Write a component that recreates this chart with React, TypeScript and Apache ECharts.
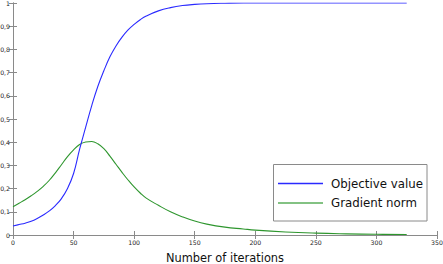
import React, { useEffect, useRef } from "react";
import * as echarts from "echarts";

const iterations = [0, 5, 10, 15, 20, 25, 30, 35, 40, 45, 50, 55, 60, 65, 70, 75, 80, 85, 90, 95, 100, 105, 110, 120, 130, 140, 150, 160, 175, 190, 200, 225, 250, 275, 300, 325];
const objectiveValue = [0.039, 0.045, 0.051, 0.059, 0.071, 0.086, 0.104, 0.127, 0.157, 0.2, 0.265, 0.37, 0.465, 0.558, 0.64, 0.708, 0.768, 0.815, 0.853, 0.884, 0.908, 0.928, 0.944, 0.966, 0.98, 0.989, 0.994, 0.997, 0.999, 1, 1, 1, 1, 1, 1, 1];
const gradientNorm = [0.122, 0.137, 0.152, 0.169, 0.188, 0.21, 0.236, 0.268, 0.303, 0.338, 0.367, 0.39, 0.401, 0.403, 0.393, 0.372, 0.34, 0.305, 0.27, 0.237, 0.207, 0.181, 0.159, 0.128, 0.1, 0.078, 0.06, 0.047, 0.034, 0.026, 0.021, 0.013, 0.008, 0.005, 0.003, 0.002];
const seriesNames = ["Objective value", "Gradient norm"];
const xAxisName = "Number of iterations";

const FONT = "DejaVu Sans";
const AXIS_COLOR = "#8a8a8a";

export default function App() {
  const ref = useRef<HTMLDivElement>(null);
  useEffect(() => {
    if (!ref.current) return;
    const chart = echarts.init(ref.current, null, { renderer: "svg" });
    const fmtY = (v: number) => String(Math.round(v * 10) / 10).replace(".", ",");
    const tickStyle = { show: true, inside: true, length: 4, lineStyle: { color: AXIS_COLOR, width: 1 } };
    const lineStyleAxis = { show: true, lineStyle: { color: AXIS_COLOR, width: 1 } };
    chart.setOption({
      animation: false,
      backgroundColor: "#ffffff",
      grid: { left: 13, right: 6, top: 3, bottom: 29, containLabel: false, outerBoundsMode: "none" },
      graphic: [
        {
          type: "rect",
          z: 5,
          shape: { x: 273.5, y: 164.5, width: 153.5, height: 56.5 },
          style: { fill: "#ffffff", stroke: "#8a8a8a", lineWidth: 1 },
        },
      ],
      xAxis: [
        {
          type: "value",
          min: 0,
          max: 350,
          interval: 50,
          position: "bottom",
          axisLine: lineStyleAxis,
          axisTick: tickStyle,
          splitLine: { show: false },
          axisLabel: { fontFamily: FONT, fontSize: 6.2, color: "#222", margin: 4 },
          name: xAxisName,
          nameLocation: "middle",
          nameGap: 17,
          nameTextStyle: { fontFamily: FONT, fontSize: 11.4, color: "#111" },
        },
        {
          type: "value",
          min: 0,
          max: 350,
          interval: 50,
          position: "top",
          axisLine: lineStyleAxis,
          axisTick: tickStyle,
          splitLine: { show: false },
          axisLabel: { show: false },
        },
      ],
      yAxis: [
        {
          type: "value",
          min: 0,
          max: 1,
          interval: 0.1,
          position: "left",
          axisLine: lineStyleAxis,
          axisTick: tickStyle,
          splitLine: { show: false },
          axisLabel: { fontFamily: FONT, fontSize: 6.2, color: "#222", margin: 3, formatter: fmtY },
        },
        {
          type: "value",
          min: 0,
          max: 1,
          interval: 0.1,
          position: "right",
          axisLine: lineStyleAxis,
          axisTick: tickStyle,
          splitLine: { show: false },
          axisLabel: { show: false },
        },
      ],
      legend: {
        orient: "vertical",
        left: 273,
        top: 164,
        z: 6,
        padding: [13.5, 2, 13.5, 5],
        itemGap: 7.5,
        itemWidth: 45,
        itemHeight: 1.6,
        icon: "rect",
        backgroundColor: "transparent",
        borderWidth: 0,
        textStyle: {
          fontFamily: FONT,
          fontSize: 11.8,
          color: "#111",
          padding: [0, 0, 0, 3],
        },
        data: seriesNames,
      },
      series: [
        {
          name: seriesNames[0],
          type: "line",
          data: iterations.map((x, i) => [x, objectiveValue[i]]),
          showSymbol: false,
          symbol: "none",
          smooth: 0.45,
          color: "#2a2aff",
          lineStyle: { color: "#2a2aff", width: 1.1 },
          z: 3,
        },
        {
          name: seriesNames[1],
          type: "line",
          data: iterations.map((x, i) => [x, gradientNorm[i]]),
          showSymbol: false,
          symbol: "none",
          smooth: 0.45,
          color: "#5aae5a",
          lineStyle: { color: "#2e962e", width: 1.1 },
          z: 2,
        },
      ],
    });
    return () => chart.dispose();
  }, []);
  return (
    <div
      ref={ref}
      style={{ position: "fixed", left: 0, top: 0, width: 443, height: 264, background: "#fff" }}
    />
  );
}
